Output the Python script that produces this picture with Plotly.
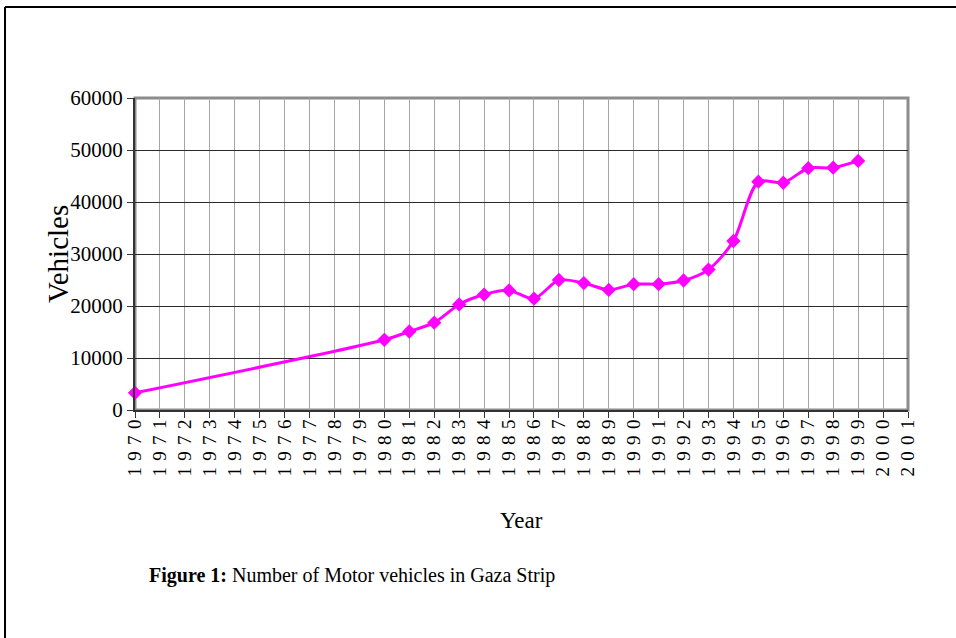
import plotly.graph_objects as go

# data
years = [1970, 1980, 1981, 1982, 1983, 1984, 1985, 1986, 1987, 1988, 1989,
         1990, 1991, 1992, 1993, 1994, 1995, 1996, 1997, 1998, 1999]
vehicles = [3300, 13500, 15100, 16800, 20300, 22200, 23000, 21400, 25000, 24400, 23100,
            24200, 24200, 24900, 27000, 32500, 43900, 43700, 46500, 46600, 47900]
axis_years = list(range(1970, 2002))
y_ticks = [0, 10000, 20000, 30000, 40000, 50000, 60000]

serif = "Liberation Serif, Times New Roman, serif"

# plot area in pixels (used to place the surrounding text/frame)
L, R, T, B = 135, 908, 98, 410
W, H = R - L, B - T
def px(x): return (x - L) / W
def py(y): return (B - y) / H

fig = go.Figure()
fig.add_trace(go.Scatter(
    x=years, y=vehicles, mode="lines+markers",
    line=dict(color="#FF00FF", width=3, shape="spline", smoothing=0.8),
    marker=dict(symbol="diamond", size=11, color="#FF00FF"),
    showlegend=False, cliponaxis=False))

fig.update_xaxes(
    range=[1970, 2001], tickmode="array", tickvals=axis_years,
    ticktext=["\u2004".join(str(y)) for y in axis_years],
    tickangle=-90, tickfont=dict(family=serif, size=19, color="black"),
    ticklabelstandoff=-6,
    showgrid=True, gridcolor="#a6a6a6", gridwidth=1,
    showline=True, linecolor="#333333", linewidth=2,
    ticks="outside", ticklen=6, tickcolor="#333333", zeroline=False)
fig.update_yaxes(
    range=[0, 60000], tickmode="array", tickvals=y_ticks,
    ticktext=[str(v) for v in y_ticks],
    tickfont=dict(family=serif, size=21, color="black"),
    showgrid=True, gridcolor="#2a2a2a", gridwidth=1,
    showline=True, linecolor="#333333", linewidth=2,
    ticks="outside", ticklen=6, tickcolor="#333333", zeroline=False)

fig.add_shape(type="rect", xref="paper", yref="paper", x0=0, x1=1, y0=0, y1=1,
              line=dict(color="#8c8c8c", width=3), layer="below")
# outer frame (top and left edges)
fig.add_shape(type="line", xref="paper", yref="paper", x0=px(5), x1=px(960), y0=py(7), y1=py(7),
              line=dict(color="black", width=2))
fig.add_shape(type="line", xref="paper", yref="paper", x0=px(5), x1=px(5), y0=py(7), y1=py(645),
              line=dict(color="black", width=2))

fig.add_annotation(text="Vehicles", xref="paper", yref="paper", x=px(58), y=0.5,
                   xanchor="center", yanchor="middle",
                   textangle=-90, showarrow=False,
                   font=dict(family=serif, size=29, color="black"))
fig.add_annotation(text="Year", xref="paper", yref="paper", x=px(521), y=py(520),
                   xanchor="center", yanchor="middle",
                   showarrow=False, font=dict(family=serif, size=23, color="black"))
fig.add_annotation(text="<b>Figure 1:</b> Number of Motor vehicles in Gaza Strip",
                   xref="paper", yref="paper", x=px(147), y=py(575),
                   xanchor="left", yanchor="middle",
                   showarrow=False, font=dict(family=serif, size=20, color="black"))

fig.update_layout(
    width=956, height=638,
    margin=dict(l=L, r=956 - R, t=T, b=638 - B),
    paper_bgcolor="white", plot_bgcolor="white")

fig.write_html("out.html", config={"displayModeBar": False},
               post_script="document.body.style.margin='0';")
